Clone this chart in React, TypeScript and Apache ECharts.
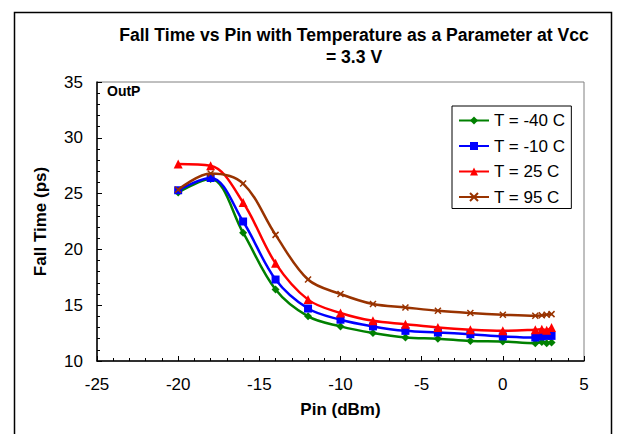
import React, { useEffect, useRef } from "react";
import * as echarts from "echarts";

const pinValues = [-20, -18, -16, -14, -12, -10, -8, -6, -4, -2, 0, 2, 2.4, 2.7, 3];
const tMinus40 = [25.1, 26.3, 21.5, 16.4, 14.0, 13.1, 12.5, 12.1, 12.0, 11.8, 11.75, 11.6, 11.7, 11.6, 11.65];
const tMinus10 = [25.3, 26.4, 22.5, 17.3, 14.7, 13.7, 13.1, 12.7, 12.55, 12.4, 12.2, 12.1, 12.2, 12.25, 12.25];
const t25 = [27.65, 27.5, 24.2, 18.75, 15.5, 14.3, 13.6, 13.3, 13.0, 12.8, 12.7, 12.8, 12.85, 12.75, 13.0];
const t95 = [25.35, 26.8, 25.9, 21.3, 17.3, 16.0, 15.1, 14.8, 14.5, 14.3, 14.15, 14.05, 14.1, 14.15, 14.2];
const seriesNames = ["T = -40 C", "T = -10 C", "T = 25 C", "T = 95 C"];
const seriesColors = ["#008000", "#0000FF", "#FF0000", "#993300"];
const titleText = "Fall Time vs Pin with Temperature as a Parameter at Vcc\n= 3.3 V";

export default function App() {
  const ref = useRef<HTMLDivElement>(null);
  useEffect(() => {
    if (!ref.current) return;
    const chart = echarts.init(ref.current, null, { renderer: "svg" });
    const allData = [tMinus40, tMinus10, t25, t95];
    const symbols = ["diamond", "rect", "triangle", "path://M0,0L10,10M10,0L0,10"];
    const sizes = [8, 8, 9, 6];
    const font = "Arial, 'Liberation Sans', sans-serif";
    chart.setOption({
      animation: false,
      backgroundColor: "#ffffff",
      textStyle: { fontFamily: font },
      title: {
        text: titleText,
        left: 349,
        textAlign: "center",
        top: 19,
        textStyle: { fontSize: 17.6, fontWeight: "bold", color: "#000", lineHeight: 22, fontFamily: font },
      },
      graphic: [
        {
          type: "rect",
          shape: { x: 14.5, y: 12.5, width: 597, height: 440 },
          style: { fill: "none", stroke: "#000", lineWidth: 1.5 },
          silent: true,
        },
        {
          type: "text",
          left: 107,
          top: 84,
          style: { text: "OutP", font: `bold 14px ${font}`, fill: "#000" },
        },
      ],
      legend: {
        orient: "vertical",
        left: 452,
        top: 106,
        width: 116,
        backgroundColor: "#fff",
        borderColor: "#000",
        borderWidth: 1,
        padding: [6, 6, 3, 6],
        itemGap: 8.5,
        itemWidth: 30,
        itemHeight: 10,
        textStyle: { fontSize: 17, color: "#000", fontFamily: font },
        data: seriesNames,
      },
      grid: {
        left: 97,
        top: 82,
        width: 487,
        height: 279,
        show: true,
        borderColor: "#808080",
        borderWidth: 1,
        backgroundColor: "transparent",
      },
      xAxis: {
        type: "value",
        min: -25,
        max: 5,
        interval: 5,
        name: "Pin (dBm)",
        nameLocation: "middle",
        nameGap: 40,
        nameTextStyle: { fontSize: 17, fontWeight: "bold", color: "#000" },
        axisLine: { onZero: false, lineStyle: { color: "#000", width: 1.5 } },
        axisTick: { inside: true, length: 5, lineStyle: { color: "#000" } },
        minorTick: { show: true, splitNumber: 5, length: 3, lineStyle: { color: "#000" } },
        splitLine: { show: false },
        axisLabel: { fontSize: 17, color: "#000", margin: 15 },
      },
      yAxis: {
        type: "value",
        min: 10,
        max: 35,
        interval: 5,
        name: "Fall Time (ps)",
        nameLocation: "middle",
        nameGap: 48,
        nameTextStyle: { fontSize: 17, fontWeight: "bold", color: "#000" },
        axisLine: { show: true, onZero: false, lineStyle: { color: "#000", width: 1.5 } },
        axisTick: { show: true, inside: true, length: 5, lineStyle: { color: "#000" } },
        minorTick: { show: true, splitNumber: 5, length: 3, lineStyle: { color: "#000" } },
        splitLine: { show: false },
        axisLabel: { fontSize: 17, color: "#000", margin: 14 },
      },
      series: seriesNames.map((name, i) => ({
        name,
        type: "line",
        smooth: 0.35,
        data: pinValues.map((x, j) => [x, allData[i][j]]),
        symbol: symbols[i],
        symbolSize: sizes[i],
        showSymbol: true,
        lineStyle: { color: seriesColors[i], width: 2.5 },
        itemStyle: {
          color: seriesColors[i],
          borderColor: seriesColors[i],
          borderWidth: i === 3 ? 1.5 : 0,
        },
        z: 2 + i,
      })),
    });
    return () => chart.dispose();
  }, []);
  return (
    <div
      ref={ref}
      style={{ position: "fixed", left: 0, top: 0, width: 618, height: 434 }}
    />
  );
}
